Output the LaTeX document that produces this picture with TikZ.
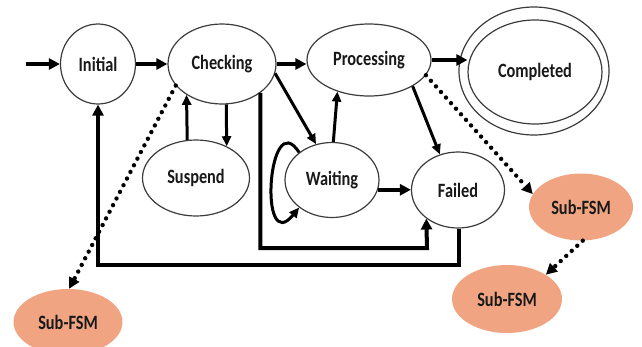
\documentclass[tikz,border=0pt]{standalone}
\usepackage{fontspec}
\setmainfont{Carlito}
\usetikzlibrary{shapes.geometric,arrows.meta}
\definecolor{subfill}{RGB}{240,164,130}
\definecolor{edgegray}{RGB}{60,60,60}
\newcommand{\stlbl}[1]{\scalebox{1.02}[1.27]{#1}}
\tikzset{
  state/.style={ellipse, draw=edgegray, line width=1.2pt, inner sep=0pt, fill=white,
    font=\fontsize{16}{18}\selectfont\bfseries, text=black!90},
  subfsm/.style={ellipse, fill=subfill, inner sep=0pt,
    font=\fontsize{16}{18}\selectfont\bfseries, text=black!90},
  mainarr/.style={line width=4pt, -{Triangle[length=11pt,width=11pt]}},
  thinarr/.style={line width=3pt, -{Triangle[length=10pt,width=9pt]}},
  dotarr/.style={line width=4.4pt, line cap=round, dash pattern=on 0pt off 7.5pt,
    -{Triangle[length=11pt,width=11pt,line cap=butt]}},
}
\begin{document}
\begin{tikzpicture}[x=1pt,y=-1pt]
\useasboundingbox (0,0) rectangle (642,346);
\begin{scope}
\clip (0,0) rectangle (642,346);
% nodes
\node[state, minimum width=75pt, minimum height=80pt] (init) at (98,64) {\stlbl{Initial}};
\node[state, minimum width=108pt, minimum height=80pt] (chk) at (222,64) {\stlbl{Checking}};
\node[state, minimum width=124pt, minimum height=72pt] (proc) at (369,60) {\stlbl{Processing}};
\node[state, minimum width=150pt, minimum height=128pt] (comp) at (534,71) {};
\node[state, minimum width=134pt, minimum height=104pt] (compin) at (535,72) {\stlbl{Completed}};
\node[state, minimum width=107pt, minimum height=76pt] (sus) at (196,178) {\stlbl{Suspend}};
\node[state, minimum width=94pt, minimum height=75pt] (wait) at (332,180) {\stlbl{Waiting}};
\node[state, minimum width=93pt, minimum height=76pt] (fail) at (458,190) {\stlbl{Failed}};
\node[subfsm, minimum width=104pt, minimum height=67pt] (subr) at (581,207) {\stlbl{Sub-FSM}};
\node[subfsm, minimum width=110pt, minimum height=68pt] (subb) at (507,299) {\stlbl{Sub-FSM}};
\node[subfsm, minimum width=109pt, minimum height=66pt] (subl) at (68,322) {\stlbl{Sub-FSM}};
\coordinate (entry) at (26,64);
\coordinate (c1) at (427,248);
\coordinate (c2) at (98,265);
% main arrows
\draw[mainarr] (entry) -- (init.west);
\draw[mainarr] (init.east) -- (chk.west);
\draw[mainarr] (chk.east) -- (chk.east -| proc.west);
\draw[mainarr] (proc.east) -- (proc.east -| compin.west);
% checking / suspend
\draw[thinarr] (chk.-84) -- (sus.46);
\draw[thinarr] (sus.103) -- (chk.-139);
% checking -> waiting, waiting -> processing, processing -> failed
\draw[thinarr] (chk.-10) -- (wait.114);
\draw[thinarr] (wait.88) -- (proc.-135);
\draw[thinarr] (proc.-31) -- (fail.117);
\draw[mainarr] (wait.-12) -- (wait.-12 -| fail.west);
% self loop
\draw[thinarr] (wait.140) .. controls (268,104) and (258,258) .. (wait.-140);
% long connectors
\draw[mainarr] (chk.-37) |- (c1) -- (fail.-138);
\draw[mainarr] (fail.-88) |- (c2) -- (init.south);
% dotted
\draw[dotarr] (chk.-155) -- (subl.88);
\draw[dotarr] (proc.-15) -- (subr.165);
\draw[dotarr] (subr.-87) -- (subb.32);
\end{scope}
\end{tikzpicture}
\end{document}
